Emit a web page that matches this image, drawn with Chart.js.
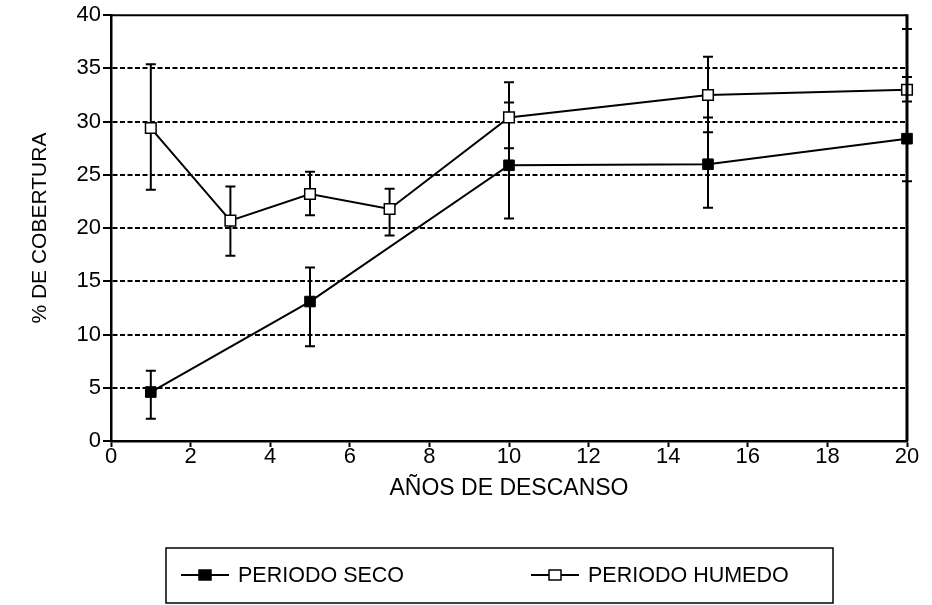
<!DOCTYPE html>
<html>
<head>
<meta charset="utf-8">
<script src="https://cdn.jsdelivr.net/npm/chart.js@4/dist/chart.umd.min.js"></script>
<style>
  html, body { margin: 0; padding: 0; background: #fff; }
  #wrap { width: 932px; height: 605px; position: relative; }
</style>
</head>
<body>
<div id="wrap"><canvas id="cobertura"></canvas></div>
<script>
// años de descanso y % de cobertura por periodo
const secoYears = [1, 5, 10, 15, 20];
const secoValues = [4.6, 13.1, 25.9, 26.0, 28.4];
const secoLow = [2.1, 8.9, 20.9, 21.9, 24.4];
const secoHigh = [6.6, 16.3, 31.8, 30.4, 38.7];

const humedoYears = [1, 3, 5, 7, 10, 15, 20];
const humedoValues = [29.4, 20.7, 23.2, 21.8, 30.4, 32.5, 33.0];
const humedoLow = [23.6, 17.4, 21.2, 19.3, 27.5, 29.0, 31.9];
const humedoHigh = [35.4, 23.9, 25.3, 23.7, 33.7, 36.1, 34.2];

const xTicks = [0, 2, 4, 6, 8, 10, 12, 14, 16, 18, 20];
const yTicks = [0, 5, 10, 15, 20, 25, 30, 35, 40];

const FONT = 'Arial, "Liberation Sans", sans-serif';

function toPoints(xs, ys, lo, hi) {
  return xs.map((x, i) => ({ x: x, y: ys[i], lo: lo[i], hi: hi[i] }));
}

// vertical error bars with caps, drawn under the markers
const errorBars = {
  id: 'errorBars',
  beforeDatasetsDraw(chart) {
    const { ctx, scales: { x, y } } = chart;
    ctx.save();
    ctx.strokeStyle = '#000';
    ctx.lineWidth = 2;
    chart.data.datasets.forEach(ds => {
      ds.data.forEach(p => {
        const px = x.getPixelForValue(p.x);
        const top = y.getPixelForValue(p.hi);
        const bot = y.getPixelForValue(p.lo);
        ctx.beginPath();
        ctx.moveTo(px, top);
        ctx.lineTo(px, bot);
        ctx.moveTo(px - 5, top);
        ctx.lineTo(px + 5, top);
        ctx.moveTo(px - 5, bot);
        ctx.lineTo(px + 5, bot);
        ctx.stroke();
      });
    });
    ctx.restore();
  }
};

// closing top and right sides of the plot, plus the boxed legend
const frameAndLegend = {
  id: 'frameAndLegend',
  afterDraw(chart) {
    const { ctx, chartArea: a } = chart;
    ctx.save();
    ctx.strokeStyle = '#000';
    ctx.lineWidth = 2;
    ctx.beginPath();
    ctx.moveTo(a.left, a.top);
    ctx.lineTo(a.right, a.top);
    ctx.stroke();
    ctx.lineWidth = 3;
    ctx.beginPath();
    ctx.moveTo(a.right, a.top - 1);
    ctx.lineTo(a.right, a.bottom);
    ctx.stroke();

    // legend box
    ctx.lineWidth = 1.5;
    ctx.strokeRect(166, 548, 667, 55);

    const entries = [
      { ds: chart.data.datasets[0], x0: 181 },
      { ds: chart.data.datasets[1], x0: 531 }
    ];
    const ly = 575;
    entries.forEach(e => {
      ctx.lineWidth = 2;
      ctx.beginPath();
      ctx.moveTo(e.x0, ly);
      ctx.lineTo(e.x0 + 48, ly);
      ctx.stroke();
      ctx.fillStyle = e.ds.pointBackgroundColor;
      ctx.fillRect(e.x0 + 18, ly - 5, 12, 10);
      ctx.lineWidth = 1.5;
      ctx.strokeRect(e.x0 + 18, ly - 5, 12, 10);
      ctx.fillStyle = '#000';
      ctx.font = '21.5px ' + FONT;
      ctx.textBaseline = 'middle';
      ctx.textAlign = 'left';
      ctx.fillText(e.ds.label, e.x0 + 57, ly + 1);
    });
    ctx.restore();
  }
};

const chart = new Chart(document.getElementById('cobertura'), {
  type: 'scatter',
  data: {
    datasets: [
      {
        label: 'PERIODO SECO',
        data: toPoints(secoYears, secoValues, secoLow, secoHigh),
        showLine: true,
        borderColor: '#000',
        borderWidth: 2,
        pointStyle: 'rect',
        pointRadius: 7.5,
        pointBackgroundColor: '#000',
        pointBorderColor: '#000',
        pointBorderWidth: 1,
        tension: 0,
        clip: false
      },
      {
        label: 'PERIODO HUMEDO',
        data: toPoints(humedoYears, humedoValues, humedoLow, humedoHigh),
        showLine: true,
        borderColor: '#000',
        borderWidth: 2,
        pointStyle: 'rect',
        pointRadius: 7.5,
        pointBackgroundColor: '#fff',
        pointBorderColor: '#000',
        pointBorderWidth: 1.5,
        tension: 0,
        clip: false
      }
    ]
  },
  options: {
    responsive: true,
    maintainAspectRatio: false,
    animation: false,
    events: [],
    layout: { padding: { left: 20, right: 25, top: 14, bottom: 100 } },
    plugins: {
      legend: { display: false },
      tooltip: { enabled: false }
    },
    scales: {
      x: {
        type: 'linear',
        min: 0,
        max: 20,
        afterBuildTicks: s => { s.ticks = xTicks.map(v => ({ value: v })); },
        afterFit: s => { s.height = 64; },
        grid: {
          drawOnChartArea: false,
          drawTicks: true,
          tickLength: 6,
          tickColor: '#000',
          tickWidth: 2
        },
        border: { display: true, color: '#000', width: 2.5 },
        ticks: {
          color: '#000',
          padding: -3,
          maxRotation: 0,
          font: { family: FONT, size: 22 }
        },
        title: {
          display: true,
          text: 'AÑOS DE DESCANSO',
          color: '#000',
          font: { family: FONT, size: 23 },
          padding: { top: 0, bottom: 3 }
        }
      },
      y: {
        type: 'linear',
        min: 0,
        max: 40,
        afterBuildTicks: s => { s.ticks = yTicks.map(v => ({ value: v })); },
        afterFit: s => { s.width = 91; },
        grid: {
          drawTicks: true,
          tickLength: 8,
          tickColor: '#000',
          tickWidth: 2,
          tickBorderDash: [],
          lineWidth: 2,
          color: c => (c.tick && (c.tick.value === 0 || c.tick.value === 40)) ? 'rgba(0,0,0,0)' : '#000'
        },
        border: { display: true, color: '#000', width: 2.5, dash: [5, 2.5] },
        ticks: {
          color: '#000',
          padding: 2,
          font: { family: FONT, size: 22 }
        },
        title: {
          display: true,
          text: '% DE COBERTURA',
          color: '#000',
          font: { family: FONT, size: 21 },
          padding: { top: 8, bottom: 0 }
        }
      }
    }
  },
  plugins: [errorBars, frameAndLegend]
});
</script>
</body>
</html>
